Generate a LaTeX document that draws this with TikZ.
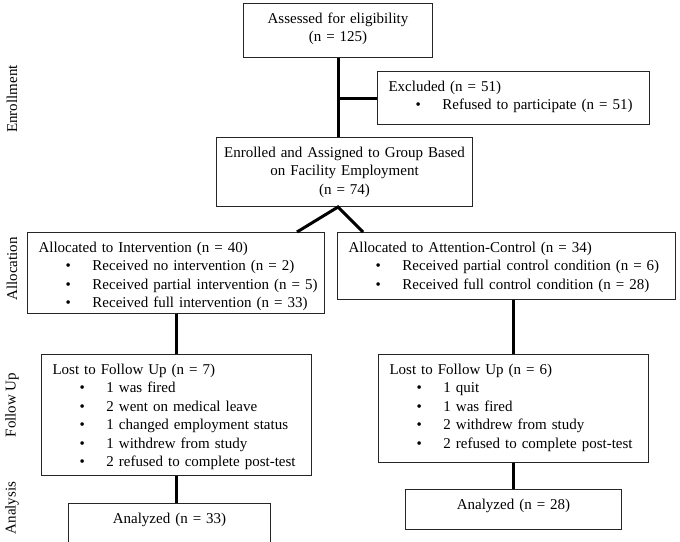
\documentclass[tikz,border=0pt]{standalone}
\usepackage{fontspec}
\setmainfont{Liberation Serif}
\newcommand{\bpoint}[1]{\mbox{\hspace*{27pt}\makebox[27pt][l]{\textbullet}#1}}

\begin{document}
\begin{tikzpicture}[x=1pt,y=-1pt,font=\fontsize{15}{18.5}\selectfont]
	\useasboundingbox (0,0) rectangle (680,541);
	\clip (0,0) rectangle (680,541);

	\begin{scope}[every node/.style={draw=black!85,line width=1pt,anchor=north west,inner xsep=11pt,inner ysep=8.5pt,text height=11pt}]
		\node[align=center,text width=167pt,text depth=26pt] (assess) at (243,3) {Assessed for eligibility\\(n = 125)};
		\node[align=left,text width=250pt,text depth=25pt] (excl) at (377,71) {Excluded (n = 51)\\\bpoint{Refused to participate (n = 51)}};
		\node[align=center,inner xsep=2pt,text width=252pt,text depth=41pt] (enrol) at (216,137) {\mbox{Enrolled and Assigned to Group Based}\\on Facility Employment\\(n = 74)};
		\node[align=left,text width=275pt,text depth=53pt] (inter) at (27,232) {Allocated to Intervention (n = 40)\\\bpoint{Received no intervention (n = 2)}\\\bpoint{Received partial intervention (n = 5)}\\\bpoint{Received full intervention (n = 33)}};
		\node[align=left,text width=316pt,text depth=39pt] (ctrl) at (337,232) {Allocated to Attention-Control (n = 34)\\\bpoint{Received partial control condition (n = 6)}\\\bpoint{Received full control condition (n = 28)}};
		\node[align=left,text width=248pt,text depth=93pt] (lostI) at (41,354) {Lost to Follow Up (n = 7)\\\bpoint{1 was fired}\\\bpoint{2 went on medical leave}\\\bpoint{1 changed employment status}\\\bpoint{1 withdrew from study}\\\bpoint{2 refused to complete post-test}};
		\node[align=left,text width=248pt,text depth=80pt] (lostC) at (378,354) {Lost to Follow Up (n = 6)\\\bpoint{1 quit}\\\bpoint{1 was fired}\\\bpoint{2 withdrew from study}\\\bpoint{2 refused to complete post-test}};
		\node[align=center,text width=180pt,text depth=17pt] (anaI) at (68,503) {Analyzed (n = 33)};
		\node[align=center,text width=194pt,text depth=12pt] (anaC) at (405,489) {Analyzed (n = 28)};
	\end{scope}

	\begin{scope}[every node/.style={rotate=90}]
		\node (enroll) at (12,99) {Enrollment};
		\node (allocation) at (12,269) {Allocation};
		\node (followup) at (12,405) {Follow Up};
		\node (analysis) at (12,508) {Analysis};
	\end{scope}

	\coordinate (split) at (assess.south |- enrol.south);
	\coordinate (ileg) at (297,232);
	\coordinate (cleg) at (363,232);

	\begin{scope}[line width=3pt]
		\draw (assess.south) -- (assess.south |- enrol.north);
		\draw (excl.west) -- (excl.west -| assess.south);
		\draw (ileg) -- (split) -- (cleg);
		\draw (inter.south) -- (inter.south |- lostI.north);
		\draw (lostC.north |- ctrl.south) -- (lostC.north);
		\draw (lostI.south) -- (lostI.south |- anaI.north);
		\draw (lostC.south) -- (anaC.north);
	\end{scope}
\end{tikzpicture}
\end{document}
